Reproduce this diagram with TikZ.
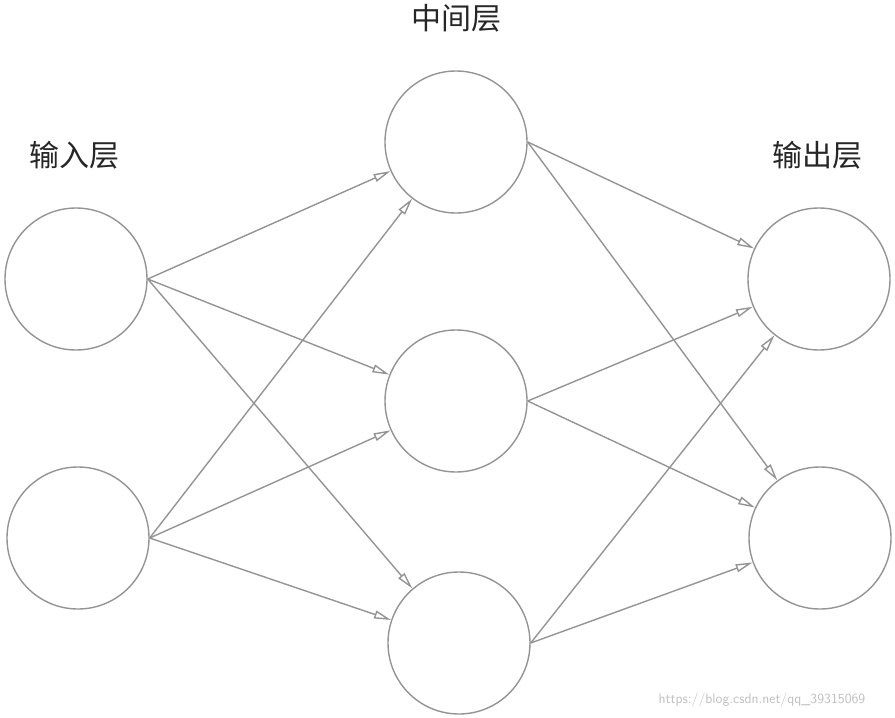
\documentclass[tikz,border=0pt]{standalone}
\usepackage{fontspec}
\newfontfamily\cjk{Noto Sans CJK SC}
\usetikzlibrary{arrows.meta}
\begin{document}
\begin{tikzpicture}[x=1pt,y=-1pt,
  neuron/.style={circle,draw=black!42,line width=1.4pt,minimum size=142pt,inner sep=0pt},
  conn/.style={draw=black!42,line width=1.4pt,-{Triangle[open,length=17pt,width=8pt]}},
  lbl/.style={font=\cjk\fontsize{30}{32}\selectfont,text=black!85}]
\useasboundingbox (0,0) rectangle (895,718);
\node[neuron] (i1) at (76,279) {};
\node[neuron] (i2) at (78,538) {};
\node[neuron] (m1) at (456,142) {};
\node[neuron] (m2) at (456,401) {};
\node[neuron] (m3) at (459,643) {};
\node[neuron] (o1) at (819,279) {};
\node[neuron] (o2) at (820,538) {};
\node[lbl] (l1) at (75,155) {输入层};
\node[lbl] (l2) at (456,18) {中间层};
\node[lbl] (l3) at (817,155) {输出层};
\node[font=\sffamily\fontsize{14}{16}\selectfont,text=black!25] (wm) at (762,700) {https://blog.csdn.net/qq\_39315069};
\foreach \a in {i1,i2} \foreach \b in {m1,m2,m3} \draw[conn] (\a.east) -- (\b);
\foreach \a in {m1,m2,m3} \foreach \b in {o1,o2} \draw[conn] (\a.east) -- (\b);
\end{tikzpicture}
\end{document}
